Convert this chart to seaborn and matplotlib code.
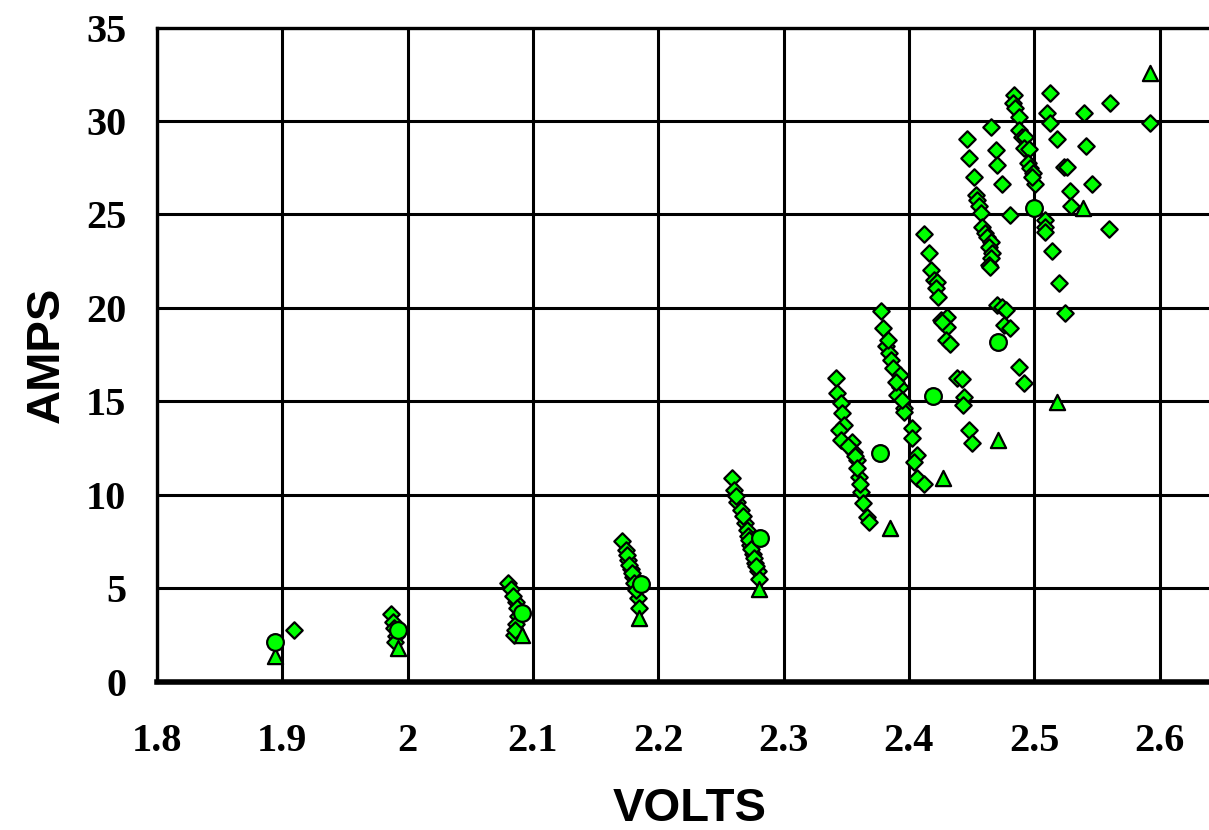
import matplotlib
matplotlib.use("Agg")
import matplotlib.pyplot as plt
import seaborn as sns
import pandas as pd

# Measured current vs. voltage, three groups of readings
diamond_volts = [
    1.909,
    1.987, 1.9885, 1.989, 1.991, 1.990,
    2.080, 2.0825, 2.0865, 2.085, 2.084, 2.087, 2.088, 2.0865, 2.086,
    2.171, 2.174, 2.176, 2.178, 2.180, 2.1835, 2.185, 2.175, 2.1765, 2.179, 2.181, 2.182,
    2.259, 2.2605, 2.263, 2.2657, 2.2689, 2.2733, 2.2752, 2.2773, 2.2792, 2.2804,
    2.262, 2.2673, 2.2705, 2.2713, 2.272, 2.274, 2.276, 2.278,
    2.3416, 2.3429, 2.3456, 2.3469, 2.3482, 2.3442, 2.3456, 2.3549, 2.3561, 2.3583,
    2.3601, 2.362, 2.3636, 2.3663, 2.3681, 2.3517, 2.3573, 2.3589, 2.3613,
    2.3774, 2.3796, 2.3814, 2.3840, 2.3860, 2.3876, 2.3928, 2.3926, 2.3907, 2.3960,
    2.3960, 2.4027, 2.4027, 2.4067, 2.4040, 2.4067, 2.4119, 2.383, 2.3897, 2.3945,
    2.4119, 2.4159, 2.4173, 2.4199, 2.4221, 2.4213, 2.4234,
    2.4252, 2.4306, 2.4306, 2.4292, 2.4327, 2.4266,
    2.4386, 2.4425, 2.4438, 2.4433, 2.4478, 2.4505,
    2.4837, 2.4832, 2.485, 2.4877, 2.4882, 2.4903, 2.493, 2.4917, 2.4956, 2.4948,
    2.4970, 2.4991, 2.5009, 2.4983,
    2.4651, 2.446, 2.4478, 2.4518, 2.4532, 2.4545, 2.4558, 2.4577, 2.4585, 2.4611,
    2.4625, 2.4651, 2.4638, 2.4664, 2.4651, 2.4638, 2.4646,
    2.4691, 2.4705, 2.4744, 2.4805,
    2.5129, 2.5103, 2.5129, 2.5183, 2.5397, 2.5410, 2.5235, 2.5262, 2.5461, 2.5283,
    2.5297, 2.5089, 2.5089, 2.5089, 2.5143, 2.5196,
    2.5602, 2.5921, 2.5593, 2.5243,
    2.4705, 2.4744, 2.4778, 2.4757, 2.4805, 2.4877, 2.4917,
]
diamond_amps = [
    2.77,
    3.61, 3.19, 2.87, 2.44, 2.12,
    5.26, 4.94, 4.28, 2.50, 4.58, 3.94, 3.51, 3.08, 2.77,
    7.53, 7.05, 6.51, 6.01, 5.62, 4.46, 3.93, 6.78, 6.24, 5.82, 5.28, 4.91,
    10.90, 10.26, 9.63, 9.19, 8.51, 7.31, 6.83, 6.37, 5.94, 5.49,
    9.93, 8.86, 8.12, 7.80, 7.58, 7.10, 6.62, 6.20,
    16.23, 15.43, 14.89, 14.39, 13.73, 13.47, 12.93, 12.84, 12.31, 11.86,
    10.97, 10.17, 9.54, 8.83, 8.53, 12.61, 12.07, 11.43, 10.58,
    19.85, 18.91, 17.96, 17.60, 17.21, 16.77, 16.41, 15.75, 15.34, 14.63,
    14.45, 13.56, 13.05, 12.13, 11.77, 10.88, 10.56, 18.28, 16.03, 15.07,
    23.94, 22.92, 22.03, 21.49, 21.40, 21.05, 20.60,
    19.35, 19.53, 18.99, 18.28, 18.07, 19.26,
    16.23, 16.18, 15.25, 14.80, 13.47, 12.79,
    31.39, 30.94, 30.68, 30.23, 29.52, 29.16, 29.16, 28.54, 28.48, 27.73,
    27.47, 27.20, 26.63, 27.02,
    29.69, 29.03, 28.03, 26.98, 26.04, 25.77, 25.45, 25.06, 24.34, 24.02,
    23.81, 23.54, 23.27, 22.92, 22.65, 22.29, 22.20,
    28.45, 27.64, 26.61, 24.97,
    31.48, 30.41, 29.91, 29.02, 30.44, 28.66, 27.52, 27.52, 26.63, 26.27,
    25.47, 24.70, 24.34, 24.07, 23.06, 21.31,
    30.94, 29.91, 24.20, 19.71,
    20.15, 20.06, 19.89, 19.08, 18.91, 16.85, 16.00,
]

circle_volts = [1.894, 1.992, 2.091, 2.186, 2.281, 2.377, 2.419, 2.471, 2.500]
circle_amps = [2.12, 2.77, 3.66, 5.21, 7.70, 12.22, 15.28, 18.19, 25.36]

triangle_volts = [1.894, 1.992, 2.091, 2.185, 2.280, 2.385, 2.427, 2.471, 2.518, 2.539, 2.592]
triangle_amps = [1.39, 1.79, 2.50, 3.42, 4.94, 8.21, 10.88, 12.93, 14.98, 25.36, 32.58]

x_ticks = [1.8, 1.9, 2.0, 2.1, 2.2, 2.3, 2.4, 2.5, 2.6]
x_tick_labels = ["1.8", "1.9", "2", "2.1", "2.2", "2.3", "2.4", "2.5", "2.6"]
y_ticks = [0, 5, 10, 15, 20, 25, 30, 35]

sns.set_style("white")
plt.rcParams["font.family"] = ["Liberation Serif", "DejaVu Serif"]
plt.rcParams["text.color"] = "black"
plt.rcParams["axes.labelcolor"] = "black"
plt.rcParams["xtick.color"] = "black"
plt.rcParams["ytick.color"] = "black"

fig = plt.figure(figsize=(12.09, 8.30), dpi=100)
ax = fig.add_axes([157 / 1209, 1 - 681.7 / 830, 1 - 157 / 1209, (681.7 - 27.5) / 830])

fill = "#00FF00"
edge = "black"

df_d = pd.DataFrame({"volts": diamond_volts, "amps": diamond_amps})
df_c = pd.DataFrame({"volts": circle_volts, "amps": circle_amps})
df_t = pd.DataFrame({"volts": triangle_volts, "amps": triangle_amps})

sns.scatterplot(data=df_d, x="volts", y="amps", marker="D", s=70, color=fill,
                edgecolor=edge, linewidth=1.6, ax=ax, zorder=3, legend=False)
sns.scatterplot(data=df_t, x="volts", y="amps", marker="^", s=120, color=fill,
                edgecolor=edge, linewidth=1.6, ax=ax, zorder=4, legend=False)
sns.scatterplot(data=df_c, x="volts", y="amps", marker="o", s=145, color=fill,
                edgecolor=edge, linewidth=1.6, ax=ax, zorder=5, legend=False)

ax.set_xlim(1.8, 1.8 + (1209 - 155.5) * 0.1 / 125.5)
ax.set_ylim(0, 35)
ax.set_xticks(x_ticks)
ax.set_xticklabels(x_tick_labels)
ax.set_yticks(y_ticks)

ax.grid(True, color="black", linewidth=2.2, zorder=1)
ax.set_axisbelow(True)

for side in ["left", "top"]:
    ax.spines[side].set_color("black")
    ax.spines[side].set_linewidth(2.4)
ax.spines["bottom"].set_color("black")
ax.spines["bottom"].set_linewidth(4.0)
ax.spines["right"].set_visible(False)

ax.tick_params(axis="both", length=0, labelsize=29, labelcolor="black")
ax.tick_params(axis="x", pad=30)
ax.tick_params(axis="y", pad=22)
for lab in ax.get_xticklabels() + ax.get_yticklabels():
    lab.set_fontweight("bold")

ax.set_xlabel("VOLTS", fontsize=34, fontweight="bold", family="Liberation Sans", color="black")
ax.set_ylabel("AMPS", fontsize=34, fontweight="bold", family="Liberation Sans", color="black")
ax.xaxis.set_label_coords((690 - 157) / 1052, (681.7 - 787) / 654.2)
ax.yaxis.set_label_coords((69 - 157) / 1052, (681.7 - 355) / 654.2)

fig.savefig("out.png", dpi=100)
